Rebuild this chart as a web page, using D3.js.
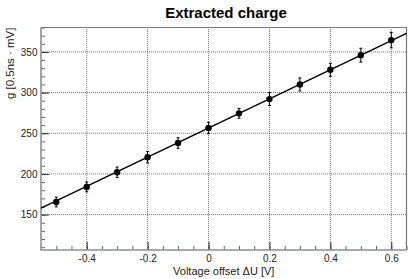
<!DOCTYPE html>
<html>
<head>
<meta charset="utf-8">
<script src="https://cdn.jsdelivr.net/npm/d3@7"></script>
<style>
  body { margin: 0; background: #fff; }
  svg { display: block; font-family: "Liberation Sans", Arial, sans-serif; }
</style>
</head>
<body>
<svg id="chart" width="411" height="279"></svg>
<script>
const voltages = [-0.5, -0.4, -0.3, -0.2, -0.1, 0, 0.1, 0.2, 0.3, 0.4, 0.5, 0.6];
const charges = [165.5, 184, 202, 220.5, 238, 256.5, 274.5, 292, 310, 328, 346, 364.5];
const errors = [6, 6, 6.5, 7, 6.5, 7, 6, 8, 8, 8, 8.5, 9.5];
const fitIntercept = 256.5;
const fitSlope = 179;
const xTicks = [-0.4, -0.2, 0, 0.2, 0.4, 0.6];
const yTicks = [150, 200, 250, 300, 350];

const width = 411, height = 279;
const margins = { top: 27.5, right: 4.5, bottom: 29, left: 41 };
const svg = d3.select("#chart");

const x = d3.scaleLinear().domain([-0.55, 0.65]).range([margins.left, width - margins.right]);
const y = d3.scaleLinear().domain([106.5, 380]).range([height - margins.bottom, margins.top]);

const x0 = margins.left, x1 = width - margins.right;
const y0 = height - margins.bottom, y1 = margins.top;

// grid
svg.append("g")
  .selectAll("line")
  .data(xTicks)
  .join("line")
  .attr("x1", (d) => x(d)).attr("x2", (d) => x(d))
  .attr("y1", y0).attr("y2", y1)
  .attr("stroke", "#555").attr("stroke-width", 0.8).attr("stroke-dasharray", "1,1");
svg.append("g")
  .selectAll("line")
  .data(yTicks)
  .join("line")
  .attr("x1", x0).attr("x2", x1)
  .attr("y1", (d) => y(d)).attr("y2", (d) => y(d))
  .attr("stroke", "#555").attr("stroke-width", 0.8).attr("stroke-dasharray", "1,1");

// axes with inward ticks
const xMinor = d3.range(-0.5, 0.651, 0.05).map((d) => +d.toFixed(2));
const yMinor = d3.range(110, 381, 10);

svg.append("g")
  .attr("transform", `translate(0,${y0})`)
  .call(d3.axisBottom(x).tickValues(xMinor).tickSize(-4).tickFormat(""))
  .call((g) => g.select(".domain").remove())
  .selectAll("line").attr("stroke", "#666");
svg.append("g")
  .attr("transform", `translate(0,${y0})`)
  .call(d3.axisBottom(x).tickValues(xTicks).tickSize(-8).tickPadding(5)
    .tickFormat((d) => (d === 0 ? "0" : d.toFixed(1))))
  .call((g) => g.select(".domain").remove())
  .call((g) => g.selectAll("line").attr("stroke", "#333"))
  .call((g) => g.selectAll("text").attr("font-size", "10px").attr("fill", "#222").attr("font-family", "Liberation Sans, Arial"));

svg.append("g")
  .attr("transform", `translate(${x0},0)`)
  .call(d3.axisLeft(y).tickValues(yMinor).tickSize(-4).tickFormat(""))
  .call((g) => g.select(".domain").remove())
  .selectAll("line").attr("stroke", "#666");
svg.append("g")
  .attr("transform", `translate(${x0},0)`)
  .call(d3.axisLeft(y).tickValues(yTicks).tickSize(-8).tickPadding(3.5))
  .call((g) => g.select(".domain").remove())
  .call((g) => g.selectAll("line").attr("stroke", "#333"))
  .call((g) => g.selectAll("text").attr("font-size", "10px").attr("fill", "#222").attr("font-family", "Liberation Sans, Arial"));

// frame
svg.append("path")
  .attr("d", `M${x0},${y1}H${x1}V${y0}`)
  .attr("fill", "none").attr("stroke", "#777").attr("stroke-width", 1.2);
svg.append("path")
  .attr("d", `M${x0},${y1}V${y0}H${x1}`)
  .attr("fill", "none").attr("stroke", "#8a8f99").attr("stroke-width", 1.6);

// fit line
const fit = (v) => fitIntercept + fitSlope * v;
svg.append("line")
  .attr("x1", x(-0.55)).attr("y1", y(fit(-0.55)))
  .attr("x2", x(0.65)).attr("y2", y(fit(0.65)))
  .attr("stroke", "#000").attr("stroke-width", 1.5);

// error bars + markers
const pts = voltages.map((v, i) => ({ v, q: charges[i], e: errors[i] }));
const eb = svg.append("g").attr("stroke", "#000").attr("stroke-width", 1);
eb.selectAll(".err")
  .data(pts)
  .join("line")
  .attr("class", "err")
  .attr("x1", (d) => x(d.v)).attr("x2", (d) => x(d.v))
  .attr("y1", (d) => y(d.q - d.e)).attr("y2", (d) => y(d.q + d.e));
eb.selectAll(".capt")
  .data(pts)
  .join("line")
  .attr("class", "capt")
  .attr("x1", (d) => x(d.v) - 1.5).attr("x2", (d) => x(d.v) + 1.5)
  .attr("y1", (d) => y(d.q + d.e)).attr("y2", (d) => y(d.q + d.e));
eb.selectAll(".capb")
  .data(pts)
  .join("line")
  .attr("class", "capb")
  .attr("x1", (d) => x(d.v) - 1.5).attr("x2", (d) => x(d.v) + 1.5)
  .attr("y1", (d) => y(d.q - d.e)).attr("y2", (d) => y(d.q - d.e));
svg.selectAll(".pt")
  .data(pts)
  .join("circle")
  .attr("class", "pt")
  .attr("cx", (d) => x(d.v)).attr("cy", (d) => y(d.q))
  .attr("r", 3.2).attr("fill", "#000");

// titles
svg.append("text")
  .attr("x", 226).attr("y", 18)
  .attr("text-anchor", "middle")
  .attr("font-size", "15px").attr("font-weight", "bold")
  .text("Extracted charge");
svg.append("text")
  .attr("x", (x0 + x1) / 2).attr("y", 275)
  .attr("text-anchor", "middle")
  .attr("font-size", "11px").attr("fill", "#222")
  .text("Voltage offset ΔU [V]");
svg.append("text")
  .attr("transform", `translate(14,${y1}) rotate(-90)`)
  .attr("text-anchor", "end")
  .attr("font-size", "11.5px").attr("fill", "#222")
  .text("g [0.5ns · mV]");
</script>
</body>
</html>
